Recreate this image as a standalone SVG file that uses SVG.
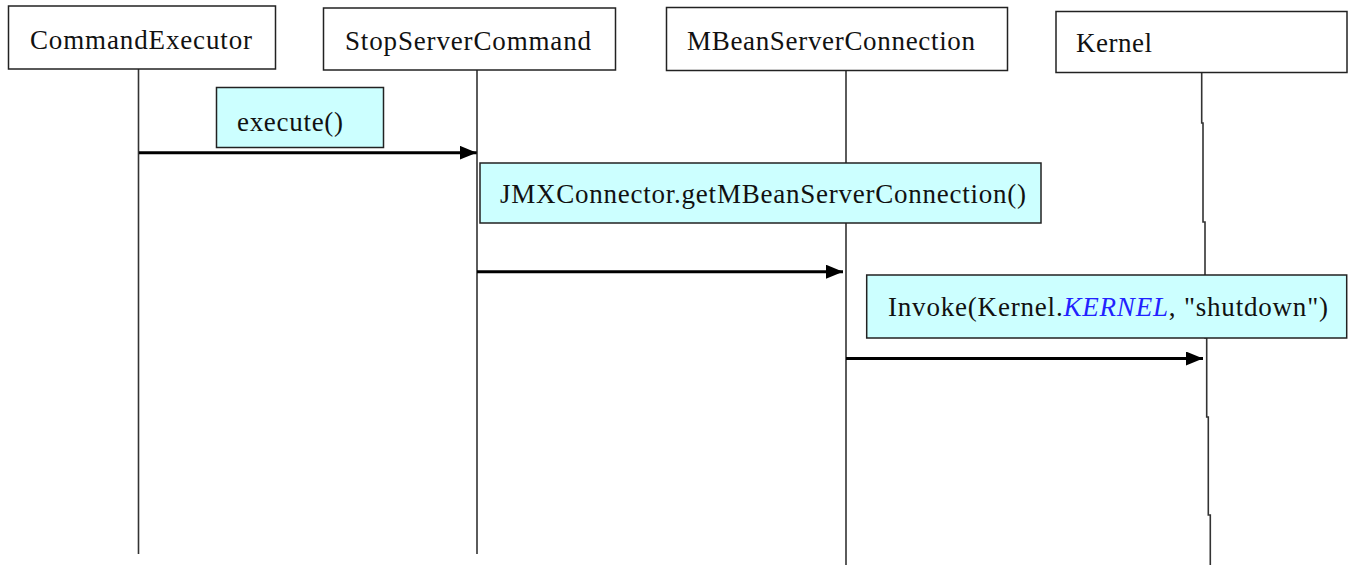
<svg xmlns="http://www.w3.org/2000/svg" width="1348" height="565" viewBox="0 0 1348 565">
  <style>
    .box { fill: #ffffff; stroke: #222222; stroke-width: 1.5; }
    .msgbox { fill: #ccffff; stroke: #222222; stroke-width: 1.5; }
    .life { fill: none; stroke: #333333; stroke-width: 1.6; }
    .msg { fill: none; stroke: #000000; stroke-width: 3; marker-end: url(#arrow); }
    text { font-family: "Liberation Serif", "Times New Roman", serif; font-size: 27px; fill: #111111; }
    .kw { fill: #2222ff; font-style: italic; }
  </style>
  <defs>
    <marker id="arrow" markerUnits="userSpaceOnUse" markerWidth="17" markerHeight="14" refX="17" refY="7" orient="auto">
      <path d="M0,0 L17,7 L0,14 Z" fill="#000000"/>
    </marker>
  </defs>
  <rect width="1348" height="565" fill="#ffffff"/>

  <g id="CommandExecutor">
    <line class="life" x1="138.5" y1="69" x2="138.5" y2="554"/>
    <rect class="box" x="8.5" y="6" width="267" height="63"/>
    <text x="30" y="49" textLength="222">CommandExecutor</text>
  </g>

  <g id="StopServerCommand">
    <line class="life" x1="477" y1="70" x2="477" y2="554"/>
    <rect class="box" x="323.5" y="8" width="292" height="62"/>
    <text x="345" y="50" textLength="246">StopServerCommand</text>
  </g>

  <g id="MBeanServerConnection">
    <line class="life" x1="846" y1="71" x2="846" y2="565"/>
    <rect class="box" x="666.5" y="7.5" width="341" height="63"/>
    <text x="687" y="50" textLength="288">MBeanServerConnection</text>
  </g>

  <g id="Kernel">
    <path class="life" d="M1201.7,72 V123 H1203 V222 H1205 V338 H1206.7 V417 H1208.3 V515 H1210.3 V565"/>
    <rect class="box" x="1056" y="11.5" width="291" height="61"/>
    <text x="1076" y="52" textLength="76">Kernel</text>
  </g>

  <g id="connectors">
    <line class="msg" x1="139" y1="152.7" x2="476.7" y2="152.7"/>
    <line class="msg" x1="477" y1="271.7" x2="843" y2="271.7"/>
    <line class="msg" x1="846" y1="358.5" x2="1203" y2="358.5"/>
  </g>

  <g id="label-execute">
    <rect class="msgbox" x="216.5" y="87.5" width="167" height="60"/>
    <text x="237" y="131" textLength="106">execute()</text>
  </g>

  <g id="label-getMBeanServerConnection">
    <rect class="msgbox" x="480" y="163" width="561" height="60"/>
    <text x="500" y="203" textLength="526">JMXConnector.getMBeanServerConnection()</text>
  </g>

  <g id="label-invoke">
    <rect class="msgbox" x="866.7" y="275" width="480" height="63"/>
    <text x="888" y="316" textLength="440">Invoke(Kernel.<tspan class="kw">KERNEL</tspan>, "shutdown")</text>
  </g>
</svg>
